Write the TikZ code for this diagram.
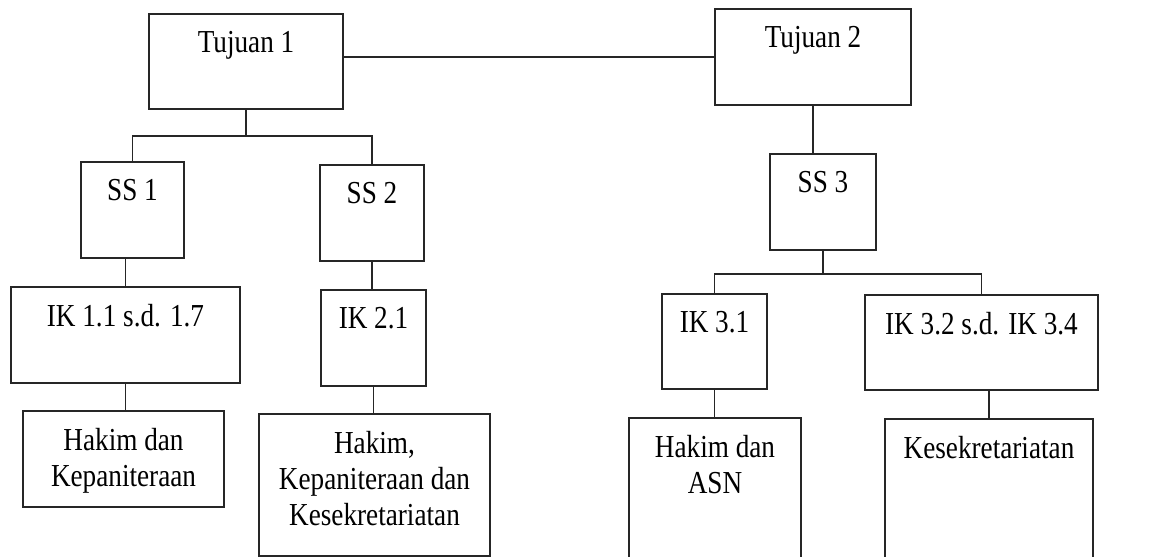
\documentclass[tikz,border=0pt]{standalone}
\usepackage{fontspec}
\setmainfont{Liberation Serif}[FakeStretch=0.85]
\begin{document}
\begin{tikzpicture}[x=1pt, y=-1pt,
	box/.style={draw=black!85, line width=1.6pt, anchor=north west, inner sep=0pt, outer sep=0pt},
	boxtext/.style={anchor=north, yshift=-17.5pt, inner sep=0pt, align=center, text=black, font=\fontsize{32}{36}\selectfont},
	link/.style={draw=black!85, line width=1.6pt}]
		\clip (0,0) rectangle (1173,557);
		
		%goals
		\node[box, minimum width=194pt, minimum height=95pt, label={[boxtext]north:Tujuan 1}] (tuj1) at (149,14) {};
		\node[box, minimum width=196pt, minimum height=96pt, label={[boxtext]north:Tujuan 2}] (tuj2) at (715,9) {};
		
		%strategic targets
		\node[box, minimum width=103pt, minimum height=96pt, label={[boxtext]north:SS 1}] (ss1) at (81,162) {};
		\node[box, minimum width=104pt, minimum height=96pt, label={[boxtext]north:SS 2}] (ss2) at (320,165) {};
		\node[box, minimum width=106pt, minimum height=96pt, label={[boxtext]north:SS 3}] (ss3) at (770,154) {};
		
		%indicators
		\node[box, minimum width=229pt, minimum height=96pt, label={[boxtext]north:IK 1.1 s.d. 1.7}] (ik1) at (11,287) {};
		\node[box, minimum width=105pt, minimum height=96pt, label={[boxtext]north:IK 2.1}] (ik2) at (321,290) {};
		\node[box, minimum width=105pt, minimum height=95pt, label={[boxtext]north:IK 3.1}] (ik3a) at (662,294) {};
		\node[box, minimum width=233pt, minimum height=95pt, label={[boxtext]north:IK 3.2 s.d. IK 3.4}] (ik3b) at (865,295) {};
		
		%units
		\node[box, minimum width=201pt, minimum height=96pt, label={[boxtext]north:Hakim dan\\Kepaniteraan}] (unit1) at (23,411) {};
		\node[box, minimum width=231pt, minimum height=142pt, label={[boxtext]north:Hakim,\\Kepaniteraan dan\\Kesekretariatan}] (unit2) at (259,414) {};
		\node[box, minimum width=172pt, minimum height=150pt, label={[boxtext]north:Hakim dan\\ASN}] (unit3a) at (629,418) {};
		\node[box, minimum width=208pt, minimum height=150pt, label={[boxtext]north:Kesekretariatan}] (unit3b) at (885,419) {};
		
		%connectors
		\draw[link] (tuj1.east |- tuj2.west) -- (tuj2.west);
		\draw[link] (tuj1.south) -- ++(0,27) -| (ss1.north);
		\draw[link] (tuj1.south) -- ++(0,27) -| (ss2.north);
		\draw[link] (ik1.north |- ss1.south) -- (ik1.north);
		\draw[link] (ik1.south) -- (ik1.south |- unit1.north);
		\draw[link] (ss2.south) -- (ss2.south |- ik2.north);
		\draw[link] (ik2.south) -- (ik2.south |- unit2.north);
		\draw[link] (tuj2.south) -- (tuj2.south |- ss3.north);
		\draw[link] (ss3.south) -- ++(0,24) -| (ik3a.north);
		\draw[link] (ss3.south) -- ++(0,24) -| (ik3b.north);
		\draw[link] (ik3a.south) -- (ik3a.south |- unit3a.north);
		\draw[link] (unit3b.north |- ik3b.south) -- (unit3b.north);
\end{tikzpicture}
\end{document}
